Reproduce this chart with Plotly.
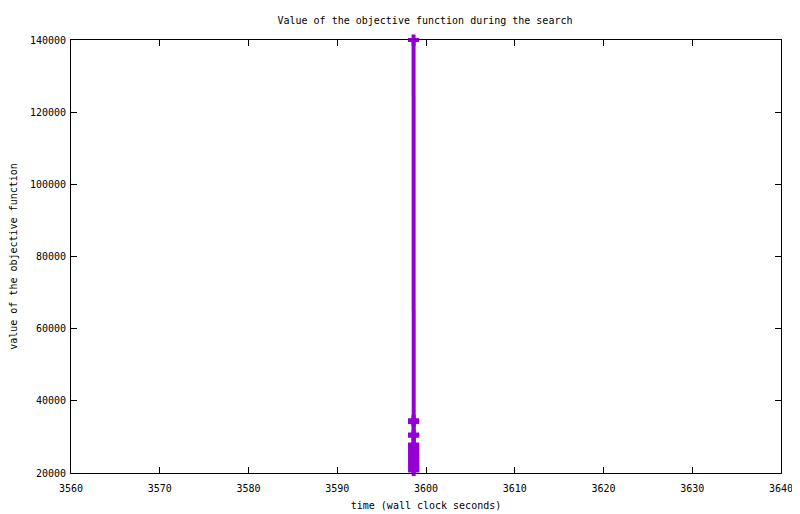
import plotly.graph_objects as go

# valeurs (temps en secondes, valeur de la fonction objectif)
times = [3598.600, 3598.601, 3598.602, 3598.603, 3598.604, 3598.605, 3598.606, 3598.607,
         3598.608, 3598.609, 3598.610, 3598.611, 3598.612, 3598.613, 3598.614, 3598.615]
objective = [140000, 34600, 34100, 30700, 30300, 27900, 27100, 26300,
             25500, 24700, 23900, 23100, 22300, 21500, 20700, 19600]

x_ticks = [3560, 3570, 3580, 3590, 3600, 3610, 3620, 3630, 3640]
y_ticks = [20000, 40000, 60000, 80000, 100000, 120000, 140000]
y_labels = ['20000', '40000', '60000', '80000', '100000', '120000', '140000']

purple = '#9400D3'
font_mono = 'DejaVu Sans Mono'

fig = go.Figure()
fig.add_trace(go.Scatter(x=times, y=objective, mode='lines+markers',
                         line=dict(color=purple, width=4),
                         marker=dict(symbol='cross-thin', size=8, color=purple,
                                     line=dict(color=purple, width=4)),
                         cliponaxis=False,
                         showlegend=False))

axis_style = dict(showgrid=False, zeroline=False, showline=True,
                  linecolor='black', linewidth=1, mirror='ticks',
                  ticks='inside', ticklen=6, tickcolor='black', tickwidth=1,
                  automargin=False,
                  tickfont=dict(family=font_mono, size=10, color='black'))

fig.update_xaxes(range=[3560, 3640], tickvals=x_ticks, ticklabelstandoff=6,
                 title=dict(text='time (wall clock seconds)',
                            font=dict(family=font_mono, size=10, color='black'),
                            standoff=8),
                 **axis_style)
fig.update_yaxes(range=[20000, 140000], tickvals=y_ticks, ticktext=y_labels,
                 ticklabelstandoff=2,
                 title=dict(text='value of the objective function',
                            font=dict(family=font_mono, size=10, color='black'),
                            standoff=14),
                 **axis_style)

# la page ajoute une marge de 8 px : figure un peu plus petite que la fenêtre
fig.update_layout(width=792, height=506,
                  margin=dict(l=63, r=19, t=32, b=41),
                  plot_bgcolor='white', paper_bgcolor='white',
                  title=dict(text='Value of the objective function during the search',
                             x=0.5265, xanchor='center', y=0.976, yanchor='middle',
                             font=dict(family=font_mono, size=10, color='black')))

fig.write_html('out.html')
